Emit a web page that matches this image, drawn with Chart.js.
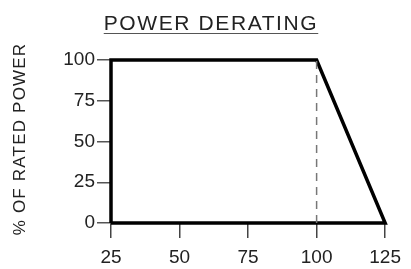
<!DOCTYPE html>
<html>
<head>
<meta charset="utf-8">
<script src="https://cdn.jsdelivr.net/npm/chart.js@4"></script>
<style>
  body { margin: 0; background: #fff; }
  #wrap { width: 411px; height: 269px; }
</style>
</head>
<body>
<div id="wrap"><canvas id="chart-derating" width="411" height="269"></canvas></div>
<script>
// datos
const titulo = 'POWER DERATING';
const tituloY = '% OF RATED POWER';
const temperaturas = [25, 25, 100, 125, 25];
const potencia = [0, 100, 100, 0, 0];
const lineaCorteX = [100, 100];
const lineaCorteY = [0, 100];
const ticksX = [25, 50, 75, 100, 125];
const ticksY = [0, 25, 50, 75, 100];

const fuente = "'Liberation Sans', Arial, sans-serif";

const puntos = (xs, ys) => xs.map((x, i) => ({ x: x, y: ys[i] }));

// dibuja el titulo subrayado y la etiqueta del eje Y con espaciado
const textosPlugin = {
    id: 'textos',
    afterDraw(chart) {
        const ctx = chart.ctx;
        ctx.save();
        ctx.fillStyle = '#222';
        ctx.font = `21px ${fuente}`;
        ctx.letterSpacing = '1.6px';
        ctx.textAlign = 'center';
        ctx.textBaseline = 'alphabetic';
        ctx.fillText(titulo, 211, 30);
        const ancho = ctx.measureText(titulo).width;
        ctx.strokeStyle = '#555';
        ctx.lineWidth = 1;
        ctx.beginPath();
        ctx.moveTo(211 - ancho / 2, 33.5);
        ctx.lineTo(211 + ancho / 2, 33.5);
        ctx.stroke();

        ctx.translate(25, 139);
        ctx.rotate(-Math.PI / 2);
        ctx.font = `17px ${fuente}`;
        ctx.letterSpacing = '1.2px';
        ctx.fillText(tituloY, 0, 0);
        ctx.restore();
    }
};

const config = {
    type: 'scatter',
    data: {
        datasets: [{
            data: puntos(lineaCorteX, lineaCorteY),
            showLine: true,
            borderColor: '#777',
            borderWidth: 1.5,
            borderDash: [8, 6],
            pointRadius: 0,
            clip: false
        }, {
            data: puntos(temperaturas, potencia),
            showLine: true,
            borderColor: '#000',
            borderWidth: 3.5,
            pointRadius: 0,
            clip: false
        }]
    },
    options: {
        responsive: false,
        animation: false,
        layout: { padding: { top: 60, right: 25, left: 0, bottom: 0 } },
        plugins: { legend: { display: false }, tooltip: { enabled: false } },
        scales: {
            x: {
                type: 'linear',
                min: 25,
                max: 125,
                afterBuildTicks: (s) => { s.ticks = ticksX.map(v => ({ value: v })); },
                afterFit: (s) => { s.height = 46; },
                border: { display: false },
                grid: { drawOnChartArea: false, tickLength: 15, color: '#444', lineWidth: 1.5 },
                ticks: { padding: 10, color: '#222', font: { family: fuente, size: 19, lineHeight: 1 } }
            },
            y: {
                min: 0,
                max: 100,
                afterBuildTicks: (s) => { s.ticks = ticksY.map(v => ({ value: v })); },
                afterFit: (s) => { s.width = 111; },
                border: { display: false },
                grid: { drawOnChartArea: false, tickLength: 14, color: '#555', lineWidth: 1.5 },
                ticks: { padding: 2, color: '#222', font: { family: fuente, size: 19, lineHeight: 1 } }
            }
        }
    },
    plugins: [textosPlugin]
};

new Chart(document.querySelector('#chart-derating'), config);
</script>
</body>
</html>
